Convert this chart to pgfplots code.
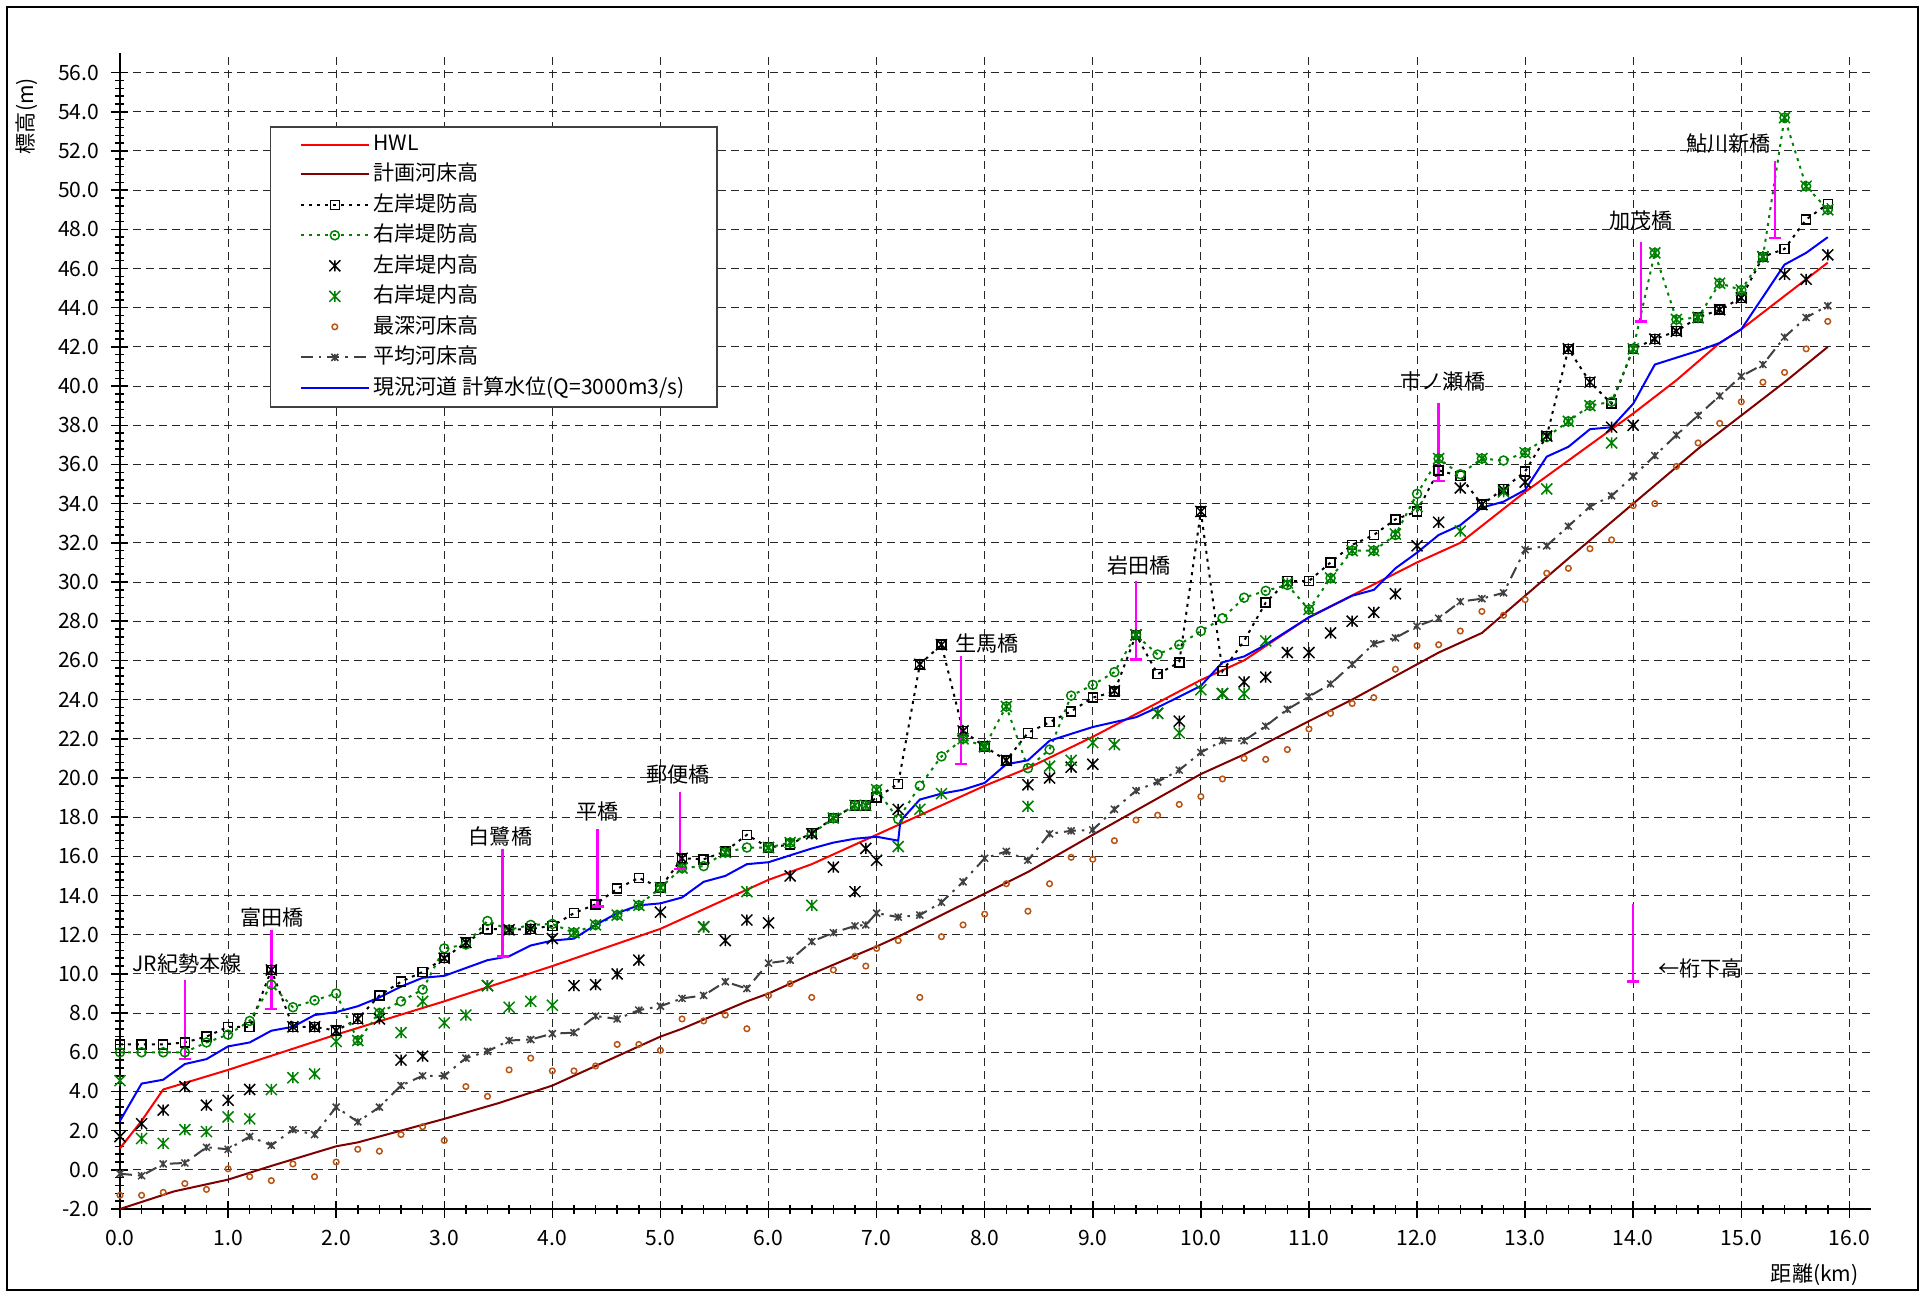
\documentclass[border=0pt]{standalone}
\usepackage{fontspec}
\setmainfont{Noto Sans CJK JP}
\usepackage{pgfplots}
\usepackage{pgfplotstable}
\pgfplotsset{compat=1.18}
\definecolor{hwl}{RGB}{255,0,0}
\definecolor{bed}{RGB}{128,0,0}
\definecolor{cur}{RGB}{0,0,255}
\definecolor{grn}{RGB}{0,128,0}
\definecolor{deep}{RGB}{184,84,20}
\definecolor{avg}{RGB}{64,64,64}
\definecolor{mag}{RGB}{255,0,255}
\newcommand\sz{\fontsize{6}{7.2}\selectfont}
\pgfdeclareplotmark{xstar}{%
  \pgfpathmoveto{\pgfqpoint{-\pgfplotmarksize}{-\pgfplotmarksize}}%
  \pgfpathlineto{\pgfqpoint{\pgfplotmarksize}{\pgfplotmarksize}}%
  \pgfpathmoveto{\pgfqpoint{-\pgfplotmarksize}{\pgfplotmarksize}}%
  \pgfpathlineto{\pgfqpoint{\pgfplotmarksize}{-\pgfplotmarksize}}%
  \pgfpathmoveto{\pgfqpoint{0pt}{-\pgfplotmarksize}}%
  \pgfpathlineto{\pgfqpoint{0pt}{\pgfplotmarksize}}%
  \pgfusepathqstroke}

% x: distance (km); L/R: left/right levee; LI/RI: left/right inland; D: deepest bed; A: mean bed
\pgfplotstableread{
x L R LI RI D A
0.0 6.4 6.0 1.7 4.55 -1.3 -0.2
0.2 6.4 6.0 2.35 1.6 -1.3 -0.3
0.4 6.4 6.0 3.05 1.35 -1.15 0.3
0.6 6.5 6.0 4.25 2.05 -0.7 0.35
0.8 6.8 6.5 3.3 1.95 -1.0 1.15
1.0 7.3 6.9 3.55 2.7 0.05 1.05
1.2 7.3 7.6 4.1 2.6 -0.35 1.7
1.4 10.2 9.45 10.2 4.1 -0.55 1.25
1.6 7.3 8.3 7.3 4.7 0.3 2.05
1.8 7.3 8.65 7.3 4.9 -0.35 1.8
2.0 7.1 9.0 7.1 6.55 0.4 3.2
2.2 7.7 6.6 7.7 6.6 1.05 2.45
2.4 8.9 8.0 7.7 8.0 0.95 3.2
2.6 9.6 8.6 5.6 7.0 1.8 4.3
2.8 10.1 9.2 5.8 8.6 2.2 4.8
3.0 10.8 11.3 10.8 7.5 1.5 4.8
3.2 11.6 11.5 11.6 7.9 4.25 5.7
3.4 12.3 12.7 9.4 9.4 3.75 6.05
3.6 12.25 12.25 12.25 8.3 5.1 6.6
3.8 12.3 12.5 12.3 8.6 5.7 6.65
4.0 12.45 12.55 11.8 8.4 5.05 6.95
4.2 13.1 12.1 9.4 12.1 5.05 7.0
4.4 13.55 12.5 9.45 12.5 5.3 7.85
4.6 14.35 13.0 10.0 13.0 6.4 7.7
4.8 14.9 13.5 10.7 13.5 6.4 8.15
5.0 14.4 14.4 13.15 14.4 6.1 8.35
5.2 15.9 15.4 15.9 15.4 7.7 8.75
5.4 15.85 15.5 12.4 12.4 7.6 8.9
5.6 16.25 16.2 11.7 16.2 7.9 9.6
5.8 17.1 16.45 12.75 14.2 7.2 9.25
6.0 16.45 16.45 12.6 16.45 8.9 10.55
6.2 16.6 16.7 15.0 16.7 9.5 10.7
6.4 17.2 17.15 17.15 13.5 8.8 11.65
6.6 17.95 17.95 15.45 17.95 10.2 12.1
6.8 18.6 18.6 14.2 18.6 10.9 12.45
6.9 18.6 18.6 16.4 18.6 10.4 12.5
7.0 19.0 19.4 15.8 19.4 11.3 13.1
7.2 19.7 17.9 18.4 16.5 11.7 12.9
7.4 25.8 19.6 25.8 18.4 8.8 13.0
7.6 26.8 21.1 26.8 19.2 11.9 13.65
7.8 22.4 22.0 22.4 22.0 12.5 14.7
8.0 21.6 21.6 21.6 21.6 13.05 15.9
8.2 20.9 23.65 20.9 23.65 14.6 16.25
8.4 22.3 20.5 19.65 18.55 13.2 15.8
8.6 22.85 21.45 20.0 20.6 14.6 17.15
8.8 23.4 24.2 20.55 20.9 15.95 17.3
9.0 24.1 24.75 20.7 21.8 15.85 17.35
9.2 24.4 25.4 24.45 21.7 16.8 18.4
9.4 27.3 27.3 27.3 27.3 17.85 19.35
9.6 25.3 26.3 23.3 23.3 18.1 19.8
9.8 25.9 26.8 22.9 22.3 18.65 20.4
10.0 33.6 27.5 33.6 24.5 19.05 21.3
10.2 25.45 28.15 24.3 24.3 19.95 21.9
10.4 27.0 29.2 24.9 24.3 21.0 21.9
10.6 28.95 29.55 25.15 27.0 20.95 22.65
10.8 30.05 29.85 26.4 29.95 21.45 23.5
11.0 30.05 28.6 26.4 28.6 22.5 24.15
11.2 31.0 30.2 27.4 30.2 23.3 24.8
11.4 31.9 31.6 28.0 31.6 23.8 25.8
11.6 32.4 31.6 28.45 31.6 24.1 26.85
11.8 33.2 32.4 29.4 32.45 25.55 27.15
12.0 33.6 34.5 31.85 33.85 26.75 27.75
12.2 35.7 36.3 33.05 36.3 26.8 28.15
12.4 35.4 35.5 34.8 32.6 27.5 29.0
12.6 33.95 36.3 33.95 36.3 28.5 29.15
12.8 34.75 36.2 34.7 34.6 28.3 29.45
13.0 35.65 36.6 35.1 36.6 29.1 31.65
13.2 37.45 37.4 37.45 34.75 30.45 31.85
13.4 41.9 38.2 41.9 38.2 30.7 32.85
13.6 40.2 39.0 40.2 39.0 31.7 33.85
13.8 39.1 39.2 37.9 37.1 32.15 34.4
14.0 41.9 41.9 38.0 41.9 33.9 35.4
14.2 42.4 46.8 42.4 46.8 34.0 36.45
14.4 42.8 43.4 42.8 43.4 35.9 37.5
14.6 43.5 43.5 43.5 43.5 37.1 38.5
14.8 43.9 45.25 43.9 45.25 38.1 39.5
15.0 44.5 44.9 44.5 44.9 39.2 40.5
15.2 46.6 46.6 46.6 46.6 40.2 41.1
15.4 47.0 53.7 45.7 53.7 40.7 42.5
15.6 48.5 50.2 45.45 50.2 41.9 43.5
15.8 49.3 49.0 46.7 49.0 43.3 44.1
}\pts

% girder clearance at bridges: x, top of bar, girder underside
\pgfplotstableread{
x top low
0.6 9.7 5.65
1.4 12.25 8.2
3.54 16.35 10.9
4.42 17.4 13.45
5.18 19.3 15.35
7.78 26.2 20.7
9.4 30.05 26.05
12.2 39.15 35.15
14.07 47.35 43.3
15.31 51.5 47.55
14.0 13.55 9.6
}\girder

\begin{document}
\begin{tikzpicture}[font=\sz]
\useasboundingbox (0,0) rectangle (191.9mm,129.2mm);
\draw[line width=0.15mm] (0.7mm,0.2mm) rectangle (191.8mm,128.5mm);
\begin{axis}[
  at={(12mm,8.3mm)}, anchor=south west,
  scale only axis, width=175.1mm, height=115.6mm,
  xmin=0, xmax=16.2, ymin=-2, ymax=57,
  axis x line*=bottom, axis y line*=left,
  axis line style={line width=0.2mm},
  clip=false,
  xtick={0,1,...,16}, ytick={-2,0,...,56},
  minor x tick num=4, minor y tick num=4,
  tick align=center, major tick length=1.7mm, minor tick length=0.9mm,
  tick style={black, line width=0.15mm},
  grid=major,
  major grid style={dash pattern=on 0.8mm off 0.5mm, black!85, line width=0.1mm},
  /pgf/number format/assume math mode=true,
  xticklabel style={font=\sz, /pgf/number format/.cd, fixed, fixed zerofill, precision=1},
  yticklabel style={font=\sz, /pgf/number format/.cd, fixed, fixed zerofill, precision=1},
  xlabel={距離(km)},
  xlabel style={font=\sz, at={(axis description cs:1,0)}, anchor=north east, yshift=-4.2mm},
  ylabel={標高(m)},
  ylabel style={font=\sz, at={(axis description cs:-0.040,0.989)}, anchor=south east},
  legend cell align=left,
  legend style={at={(axis cs:1.39,53.25)}, anchor=north west, draw=black!75,
    line width=0.12mm, font=\sz, inner xsep=2.9mm, inner ysep=0.4mm,
    row sep=0.05mm, nodes={inner sep=0.35mm}},
  legend image code/.code={\draw[mark repeat=2,mark phase=2,#1]
    plot coordinates {(0mm,0mm) (3.4mm,0mm) (6.8mm,0mm)};},
]
% HWL
\addplot[hwl, line width=0.2mm] coordinates {
(0,1.1) (0.2,2.5) (0.4,4.1) (1,5.1) (2,6.9) (3,8.6) (4,10.4) (5,12.3) (6,14.8)
(6.4,15.6) (7,17.1) (7.2,17.6) (8,19.6) (8.4,20.5) (9,22.1) (10,25.0) (10.4,26.0)
(11,28.2) (12,31.0) (12.4,32.0) (13,34.6) (14,38.6) (14.4,40.3) (14.8,42.2)
(15,42.9) (15.4,44.6) (15.8,46.3)};
\addlegendentry{HWL}
% planned bed
\addplot[bed, line width=0.2mm] coordinates {
(0,-2.0) (0.5,-1.1) (1,-0.5) (1.4,0.2) (2,1.2) (2.2,1.4) (3,2.6) (3.5,3.4) (4,4.3)
(4.4,5.3) (5,6.8) (5.2,7.2) (5.8,8.6) (6,9.0) (6.4,10.0) (7,11.4) (7.2,11.9)
(7.6,13.0) (8,14.1) (8.4,15.2) (9,17.1) (10,20.2) (10.4,21.2) (11,22.9) (11.4,24.0)
(12,25.8) (12.2,26.4) (12.6,27.4) (13,29.3) (13.4,31.2) (14,34.0) (14.6,36.8)
(15,38.5) (15.4,40.2) (15.8,42.0)};
\addlegendentry{計画河床高}
% left levee
\addplot[black, line width=0.2mm, dash pattern=on 0.3mm off 0.5mm, mark=square,
  mark size=0.45mm, mark options={solid, line width=0.15mm}] table[x=x,y=L] {\pts};
\addlegendentry{左岸堤防高}
% right levee
\addplot[grn, line width=0.2mm, dash pattern=on 0.3mm off 0.5mm, mark=o,
  mark size=0.45mm, mark options={solid, line width=0.15mm}] table[x=x,y=R] {\pts};
\addlegendentry{右岸堤防高}
% left inland
\addplot[black, only marks, mark=xstar, mark size=0.55mm,
  mark options={line width=0.15mm}] table[x=x,y=LI] {\pts};
\addlegendentry{左岸堤内高}
% right inland
\addplot[grn, only marks, mark=xstar, mark size=0.55mm,
  mark options={line width=0.15mm}] table[x=x,y=RI] {\pts};
\addlegendentry{右岸堤内高}
% deepest bed
\addplot[deep, only marks, mark=o, mark size=0.28mm,
  mark options={line width=0.15mm}] table[x=x,y=D] {\pts};
\addlegendentry{最深河床高}
% mean bed
\addplot[avg, line width=0.2mm, dash pattern=on 1.2mm off 0.6mm on 0.25mm off 0.6mm,
  mark=xstar, mark size=0.35mm, mark options={solid, line width=0.15mm}] table[x=x,y=A] {\pts};
\addlegendentry{平均河床高}
% current water level
\addplot[cur, line width=0.2mm] coordinates {
(0,2.5) (0.2,4.4) (0.4,4.6) (0.6,5.4) (0.8,5.65) (1.0,6.3) (1.2,6.5) (1.4,7.1)
(1.6,7.3) (1.8,7.9) (2.0,8.05) (2.2,8.35) (2.4,8.8) (2.6,9.35) (2.8,9.8) (3.0,9.9)
(3.2,10.3) (3.4,10.7) (3.6,10.9) (3.8,11.45) (4.0,11.7) (4.2,11.8) (4.4,12.5)
(4.6,13.1) (4.8,13.5) (5.0,13.6) (5.2,13.9) (5.4,14.7) (5.6,15.0) (5.8,15.6)
(6.0,15.7) (6.2,16.05) (6.4,16.4) (6.6,16.7) (6.8,16.9) (7.0,17.0) (7.2,16.8)
(7.22,17.8) (7.4,18.9) (7.6,19.2) (7.8,19.4) (8.0,19.75) (8.2,20.7) (8.4,20.9)
(8.6,21.9) (9.0,22.6) (9.4,23.1) (9.6,23.6) (10.0,24.7) (10.2,25.9) (10.4,26.2)
(10.6,26.8) (11.0,28.2) (11.4,29.3) (11.6,29.6) (11.8,30.7) (12.0,31.5) (12.2,32.4)
(12.4,32.9) (12.6,33.8) (12.8,34.1) (13.0,34.7) (13.2,36.4) (13.4,36.9) (13.6,37.8)
(13.8,37.9) (14.0,39.1) (14.2,41.1) (14.6,41.8) (14.8,42.2) (15.0,42.9) (15.4,46.2)
(15.6,46.8) (15.8,47.6)};
\addlegendentry{現況河道 計算水位(Q=3000m3/s)}
% girder clearance bars: vertical stems and caps at girder underside
\addplot[forget plot, only marks, mag, mark=|, mark size=0pt,
  error bars/.cd, y dir=minus, y explicit,
  error bar style={mag, line width=0.25mm},
  error mark=none]
  table[x=x, y=top, y error expr=\thisrow{top}-\thisrow{low}] {\girder};
\addplot[forget plot, only marks, mag, mark=-, mark size=0.6mm,
  mark options={line width=0.25mm}] table[x=x, y=low] {\girder};
\node[font=\sz] at (axis cs:0.62,10.55) {JR紀勢本線};
\node[font=\sz] at (axis cs:1.41,12.9) {富田橋};
\node[font=\sz] at (axis cs:3.52,17.0) {白鷺橋};
\node[font=\sz] at (axis cs:4.42,18.3) {平橋};
\node[font=\sz] at (axis cs:5.16,20.2) {郵便橋};
\node[font=\sz] at (axis cs:8.02,26.85) {生馬橋};
\node[font=\sz] at (axis cs:9.43,30.85) {岩田橋};
\node[font=\sz] at (axis cs:12.24,40.25) {市ノ瀬橋};
\node[font=\sz] at (axis cs:14.07,48.45) {加茂橋};
\node[font=\sz] at (axis cs:14.88,52.4) {鮎川新橋};
\node[font=\sz, anchor=west] at (axis cs:14.12,10.3) {←桁下高};
\end{axis}
\end{tikzpicture}
\end{document}
